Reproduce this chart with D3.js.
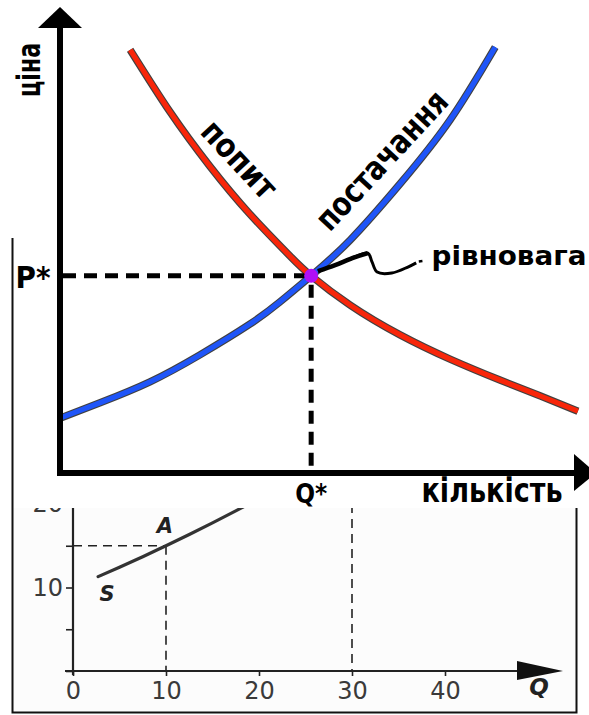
<!DOCTYPE html>
<html lang="uk">
<head>
<meta charset="UTF-8">
<title>Попит і постачання</title>
<style>
  html, body { margin: 0; padding: 0; background: #fff; }
  svg { display: block; }
  text { font-family: "DejaVu Sans", sans-serif; }
</style>
</head>
<body>
<script src="https://d3js.org/d3.v7.min.js"></script>
<script>
// upper chart: demand / supply (units are arbitrary, 0..10 on both axes)
const demandQ = [1.35, 2.12, 2.88, 3.65, 4.42, 4.83, 5.58, 6.54, 7.50, 8.46, 9.23, 9.96]
const demandP = [9.10, 7.76, 6.60, 5.57, 4.67, 4.24, 3.61, 2.97, 2.45, 2.00, 1.66, 1.33]
const supplyQ = [0, 0.77, 1.73, 2.69, 3.65, 4.23, 4.83, 5.58, 6.54, 7.50, 8.37]
const supplyP = [1.18, 1.51, 1.96, 2.54, 3.20, 3.68, 4.24, 5.01, 6.22, 7.59, 9.16]
const eqQ = 4.83
const eqP = 4.24
// wavy pointer from the equilibrium to its label
const leaderQ = [4.96, 5.29, 5.62, 5.92, 6.00, 6.10, 6.38, 6.69, 6.85]
const leaderP = [4.34, 4.47, 4.62, 4.73, 4.54, 4.32, 4.30, 4.43, 4.52]

// lower (cropped) chart
const sQ = [2.7, 5, 7.5, 10, 12.5, 15, 17.5, 20]
const sP = [11.3, 12.43, 13.69, 15.0, 16.35, 17.74, 19.17, 20.65]
const pointA = { q: 10, p: 15 }
const guideQ = 30
const xTicks = [0, 10, 20, 30, 40]
const yTicks = [0, 5, 10, 15, 20]
const yLabels = [10, 20]

const width = 589
const height = 715

const svg = d3.select('body')
    .append('svg')
    .attr('width', width)
    .attr('height', height)

const x = d3.scaleLinear().domain([0, 10]).range([60, 580])
const y = d3.scaleLinear().domain([0, 10]).range([473, 8])

const zip = (a, b) => a.map((v, i) => [v, b[i]])

const line = d3.line()
    .x(d => x(d[0]))
    .y(d => y(d[1]))
    .curve(d3.curveNatural)

// dashed guides to P* and Q*
svg.append('line')
    .attr('x1', x(0) + 3).attr('x2', x(eqQ) - 6)
    .attr('y1', y(eqP)).attr('y2', y(eqP))
    .attr('stroke', '#000').attr('stroke-width', 5)
    .attr('stroke-dasharray', '13,8')
svg.append('line')
    .attr('x1', x(eqQ)).attr('x2', x(eqQ))
    .attr('y1', y(eqP) + 9).attr('y2', y(0) - 3)
    .attr('stroke', '#000').attr('stroke-width', 5)
    .attr('stroke-dasharray', '13,8')

// curves with a thin dark rim like the original
function curve(data, color) {
    svg.append('path')
        .attr('d', line(data))
        .attr('fill', 'none')
        .attr('stroke', '#000')
        .attr('stroke-width', 7.5)
        .attr('stroke-opacity', 0.75)
    svg.append('path')
        .attr('d', line(data))
        .attr('fill', 'none')
        .attr('stroke', color)
        .attr('stroke-width', 5.2)
}
curve(zip(demandQ, demandP), '#f8260a')
curve(zip(supplyQ, supplyP), '#1f55f8')

svg.append('circle')
    .attr('cx', x(eqQ)).attr('cy', y(eqP))
    .attr('r', 7)
    .attr('fill', '#b010f5')

// pointer
const leader = zip(leaderQ, leaderP)
const leaderLine = d3.line()
    .x(d => x(d[0])).y(d => y(d[1]))
    .curve(d3.curveCatmullRom.alpha(0.5))
svg.append('path')
    .attr('d', leaderLine(leader))
    .attr('fill', 'none').attr('stroke', '#000').attr('stroke-width', 3)
    .attr('stroke-linejoin', 'round')
svg.append('path')
    .attr('d', leaderLine(leader.slice(0, 4)))
    .attr('fill', 'none').attr('stroke', '#000').attr('stroke-width', 4.5)
svg.append('line')
    .attr('x1', x(6.90)).attr('y1', y(4.55))
    .attr('x2', x(6.97)).attr('y2', y(4.56))
    .attr('stroke', '#000').attr('stroke-width', 2.5)

// axes
svg.append('path')
    .attr('d', `M${x(0)},27 L${x(0)},${y(0)} L575,${y(0)}`)
    .attr('fill', 'none')
    .attr('stroke', '#000')
    .attr('stroke-width', 6)
    .attr('stroke-linejoin', 'miter')
svg.append('path')
    .attr('d', `M38,28 L82,28 L${x(0)},7 Z`)
    .attr('fill', '#000')
svg.append('path')
    .attr('d', `M574,454 L574,491 L596,${y(0)} Z`)
    .attr('fill', '#000')

// labels
function label(txt, tx, ty, size, len, rot) {
    svg.append('text')
        .attr('transform', `translate(${tx},${ty}) rotate(${rot || 0})`)
        .attr('text-anchor', 'middle')
        .attr('font-weight', 'bold')
        .attr('font-size', size)
        .attr('textLength', len)
        .attr('lengthAdjust', 'spacingAndGlyphs')
        .text(txt)
}
label('ціна', 40, 70, 32, 54, -90)
label('P*', 33, 288, 30, 35)
label('Q*', x(eqQ), 503, 26, 32)
label('рівновага', 509, 265, 27, 155)
label('попит', 231, 167, 33, 94, 47)
label('постачання', 390, 168, 33, 177, -47)

// ---- lower chart, pasted over the bottom of the upper one ----
const xb = d3.scaleLinear().domain([0, 40]).range([73, 445])
const yb = d3.scaleLinear().domain([0, 20]).range([671, 504])

svg.append('defs').append('clipPath')
    .attr('id', 'low-clip')
    .append('rect')
    .attr('x', 13).attr('y', 508).attr('width', 563).attr('height', 204)

const low = svg.append('g').attr('clip-path', 'url(#low-clip)')

low.append('rect')
    .attr('x', 13).attr('y', 508).attr('width', 563).attr('height', 204)
    .attr('fill', '#fcfcfc')

const dash = (x1, y1, x2, y2) => low.append('line')
    .attr('x1', x1).attr('y1', y1).attr('x2', x2).attr('y2', y2)
    .attr('stroke', '#222').attr('stroke-width', 1.6)
    .attr('stroke-dasharray', '9,6')
dash(xb(0), yb(pointA.p), xb(pointA.q), yb(pointA.p))
dash(xb(pointA.q), yb(pointA.p), xb(pointA.q), yb(0))
dash(xb(guideQ), yb(20), xb(guideQ), yb(0))

const sLine = d3.line()
    .x(d => xb(d[0]))
    .y(d => yb(d[1]))
    .curve(d3.curveNatural)
low.append('path')
    .attr('d', sLine(zip(sQ, sP)))
    .attr('fill', 'none')
    .attr('stroke', '#333')
    .attr('stroke-width', 3.2)
    .attr('stroke-linecap', 'round')

low.append('g')
    .attr('transform', `translate(0,${yb(0)})`)
    .call(d3.axisBottom(xb).tickValues(xTicks).tickSize(5).tickPadding(6))
    .call(g => g.select('.domain').remove())
    .call(g => g.selectAll('line').attr('stroke', '#222').attr('stroke-width', 1.6))
    .call(g => g.selectAll('text')
        .attr('font-family', '"DejaVu Sans", sans-serif')
        .attr('font-size', 24).attr('fill', '#3a3a3a'))

low.append('g')
    .attr('transform', `translate(${xb(0)},0)`)
    .call(d3.axisLeft(yb).tickValues(yTicks).tickSize(7).tickPadding(3)
        .tickFormat(d => yLabels.includes(d) ? d : ''))
    .call(g => g.select('.domain').remove())
    .call(g => g.selectAll('line').attr('stroke', '#222').attr('stroke-width', 1.6))
    .call(g => g.selectAll('text')
        .attr('font-family', '"DejaVu Sans", sans-serif')
        .attr('font-size', 24).attr('fill', '#3a3a3a'))

low.append('path')
    .attr('d', `M${xb(0)},${yb(0) + 4} L${xb(0)},500 M${xb(0) - 8},${yb(0)} L520,${yb(0)}`)
    .attr('fill', 'none').attr('stroke', '#222').attr('stroke-width', 2.2)
low.append('path')
    .attr('d', `M517,661 L563,${yb(0)} L517,680 Z`)
    .attr('fill', '#111')

const italic = (txt, tx, ty, size) => low.append('text')
    .attr('x', tx).attr('y', ty)
    .attr('text-anchor', 'middle')
    .attr('font-family', '"Liberation Sans", Arial, sans-serif')
    .attr('font-weight', 'bold')
    .attr('font-style', 'italic')
    .attr('font-size', size)
    .attr('fill', '#222')
    .text(txt)
italic('A', xb(pointA.q) - 1, 533, 21)
italic('S', 107, 601, 21)
italic('Q', 539, 695, 23)

// frame of the pasted picture
svg.append('path')
    .attr('d', 'M12.5,238 L12.5,712.5 L576.5,712.5 L576.5,508')
    .attr('fill', 'none').attr('stroke', '#111').attr('stroke-width', 2)

// x-axis title sits right on the seam, keep it on top
label('кількість', 492, 502, 34, 141)
</script>
</body>
</html>
